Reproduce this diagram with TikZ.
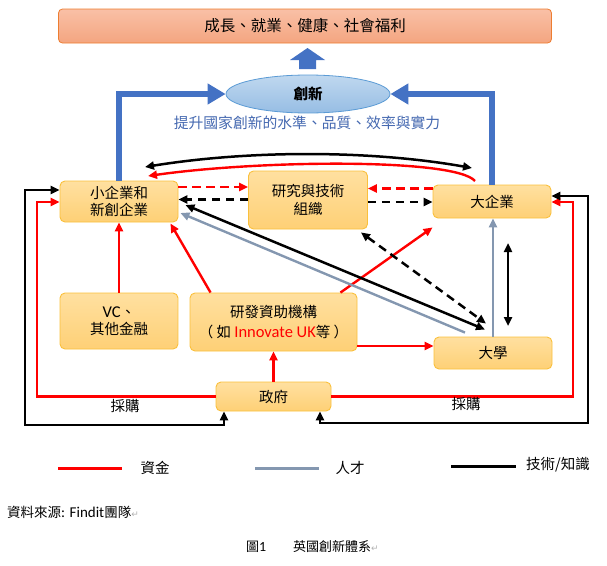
\documentclass[tikz,border=0pt]{standalone}
\usepackage{fontspec}
\setmainfont{Noto Sans CJK TC}
\newfontfamily\lat{Carlito}
\newfontfamily\sym{DejaVu Sans}
\usetikzlibrary{arrows.meta,calc,shapes.geometric}
\definecolor{myred}{RGB}{255,0,0}
\definecolor{mygrey}{RGB}{132,151,176}
\definecolor{myblue}{RGB}{68,114,196}
\definecolor{subblue}{RGB}{68,104,176}
\definecolor{boxtop}{RGB}{255,224,160}
\definecolor{boxbot}{RGB}{254,208,118}
\definecolor{boxline}{RGB}{250,192,60}
\definecolor{toptop}{RGB}{249,192,166}
\definecolor{topbot}{RGB}{244,165,128}
\definecolor{topline}{RGB}{237,125,49}
\definecolor{elltop}{RGB}{192,216,239}
\definecolor{ellbot}{RGB}{150,189,228}
\definecolor{ellline}{RGB}{91,155,213}
\begin{document}
\begin{tikzpicture}[x=1pt,y=-1pt,
  >={Triangle[length=9pt,width=8pt]},
  box/.style={draw=boxline, line width=0.9pt, rounded corners=5pt, top color=boxtop, bottom color=boxbot, align=center, inner sep=0pt, font=\fontsize{14.5}{17.5}\selectfont},
  redl/.style={draw=myred, line width=2.4pt},
  blkl/.style={draw=black, line width=2.5pt},
  gryl/.style={draw=mygrey, line width=2.4pt},
  dashl/.style={dash pattern=on 8.5pt off 5.5pt},
  bluel/.style={draw=myblue, line width=5.5pt, miter limit=10, -{Triangle[length=18pt,width=20pt]}},
  lbl/.style={font=\fontsize{14.5}{17}\selectfont, inner sep=0pt}
]
\useasboundingbox (0,0) rectangle (607,565);

% top box and innovation ellipse
\node[draw=topline, line width=0.8pt, rounded corners=4pt, top color=toptop, bottom color=topbot, minimum width=493pt, minimum height=34pt, inner sep=0pt, font=\fontsize{15.5}{18}\selectfont] (goal) at (305,26) {成長、就業、健康、社會福利};
\fill[myblue] (299,69) -- (299,60) -- (290,60) -- (307.5,48) -- (325,60) -- (316,60) -- (316,69) -- cycle;
\node[ellipse, draw=ellline, line width=0.8pt, top color=elltop, bottom color=ellbot, minimum width=164pt, minimum height=38pt, inner sep=0pt, font=\fontsize{14.5}{17}\selectfont\bfseries] (inno) at (308,94) {創新};
\node[lbl, text=subblue, font=\fontsize{14.8}{17}\selectfont] (sub) at (307,123) {提升國家創新的水準、品質、效率與實力};

% nodes
\node[box, minimum width=118pt, minimum height=41pt] (sme) at (119,201.5) {小企業和\\新創企業};
\node[box, minimum width=119pt, minimum height=58pt] (rto) at (308,200) {研究與技術\\組織};
\node[box, minimum width=118pt, minimum height=33pt] (big) at (492,201.5) {大企業};
\node[box, minimum width=118pt, minimum height=56pt] (vc) at (119,321) {{\lat\fontsize{16.5}{17}\selectfont VC}、\\其他金融};
\node[box, minimum width=167pt, minimum height=58pt, font=\fontsize{14.5}{20}\selectfont] (rd) at (273.5,322) {研發資助機構\\（ 如 {\lat\fontsize{16.5}{20}\selectfont\color{myred}Innovate UK}等 ）};
\node[box, minimum width=118pt, minimum height=32pt] (uni) at (493,353) {大學};
\node[box, minimum width=115pt, minimum height=29pt] (gov) at (273.5,396.5) {政府};

% blue feedback arrows
\draw[bluel] (sme.north) |- (inno.west);
\draw[bluel] (big.north) |- (inno.east);

% helper coordinates
\coordinate (c1) at (145,167);
\coordinate (c2) at (472,168);
\coordinate (r1) at (475,181);
\coordinate (r2) at (148,176);
\coordinate (ya) at (0,187);
\coordinate (yb) at (0,199.5);
\coordinate (yc) at (0,188.5);
\coordinate (yd) at (0,202);
\coordinate (ye) at (0,346);
\coordinate (d1) at (508,243);
\coordinate (d2) at (508,326);
\coordinate (L1) at (37,202);
\coordinate (L2) at (25,190);
\coordinate (L3) at (224,425);
\coordinate (R1) at (573,202);
\coordinate (R2) at (588,196);
\coordinate (R3) at (320,423);

% curves between SME and big firms
\draw[blkl,<->] (c1) .. controls (250,150) and (370,150) .. (c2);
\draw[redl,->] (r1) .. controls (455,158) and (260,160) .. (r2);

% dashed links with RTO
\draw[redl,dashl,->] (sme.east |- ya) -- (rto.west |- ya);
\draw[blkl,dashl,->] (rto.west |- yb) -- (sme.east |- yb);
\draw[redl,dashl,->] (big.west |- yc) -- (rto.east |- yc);
\draw[blkl,dashl,->] (rto.east |- yd) -- (big.west |- yd);

% funding arrows
\draw[redl,->] (vc.north) -- (sme.south);
\draw[redl,->] ($(rd.north west)+(21,0)$) -- ($(sme.south east)+(-8,1)$);
\draw[redl,->] ($(rd.north east)+(-17,0)$) -- ($(big.south west)+(0,9)$);
\draw[redl,->] (rd.east |- ye) -- (uni.west |- ye);
\draw[redl,->] (gov.north) -- (gov.north |- rd.south);

% diagonal links from university
\draw[gryl,->] ($(uni.north)+(-28,-4)$) -- ($(sme.east)+(2,11.5)$);
\draw[blkl,<->] ($(uni.north)+(-8,-7)$) -- ($(sme.east)+(7,3.5)$);
\draw[blkl,dashl,<->] ($(rto.south east)+(-7,3)$) -- ($(uni.north)+(-7,-13)$);
\draw[gryl,->] (uni.north) -- (uni.north |- big.south);
\draw[blkl,<->] (d1) -- (d2);

% government procurement loops
\draw[redl,->] (gov.west) -| (L1) -- (sme.west |- L1);
\draw[redl,->] (gov.east) -| (R1) -- (big.east |- R1);
\draw[blkl,<->] (sme.west |- L2) -- (L2) |- (L3) -- (gov.south -| L3);
\draw[blkl,<->] (big.east |- R2) -- (R2) |- (R3) -- (gov.south -| R3);
\node[lbl] (p1) at (125,406) {採購};
\node[lbl] (p2) at (466,404) {採購};

% legend
\coordinate (g1a) at (58,468); \coordinate (g1b) at (122,468);
\coordinate (g2a) at (255,468); \coordinate (g2b) at (319,468);
\coordinate (g3a) at (451,466); \coordinate (g3b) at (516,466);
\draw[myred, line width=3pt] (g1a) -- (g1b);
\draw[mygrey, line width=3pt] (g2a) -- (g2b);
\draw[black, line width=3pt] (g3a) -- (g3b);
\node[lbl] (t1) at (155,468) {資金};
\node[lbl] (t2) at (350,468) {人才};
\node[lbl, anchor=west] (t3) at (526,465) {技術/知識};

% source and caption
\node[anchor=west, inner sep=0pt, font=\fontsize{13.5}{15}\selectfont] (src) at (7,512) {資料來源{\lat\fontsize{15}{15}\selectfont : Findit}團隊{\sym\fontsize{9}{10}\selectfont\color{gray!60}↵}};
\node[anchor=west, inner sep=0pt, font=\fontsize{13}{15}\selectfont] (fig) at (246,547) {圖{\lat\fontsize{14}{15}\selectfont 1}};
\node[anchor=west, inner sep=0pt, font=\fontsize{13}{15}\selectfont] (cap) at (293,547) {英國創新體系{\sym\fontsize{9}{10}\selectfont\color{gray!60}↵}};
\end{tikzpicture}
\end{document}
